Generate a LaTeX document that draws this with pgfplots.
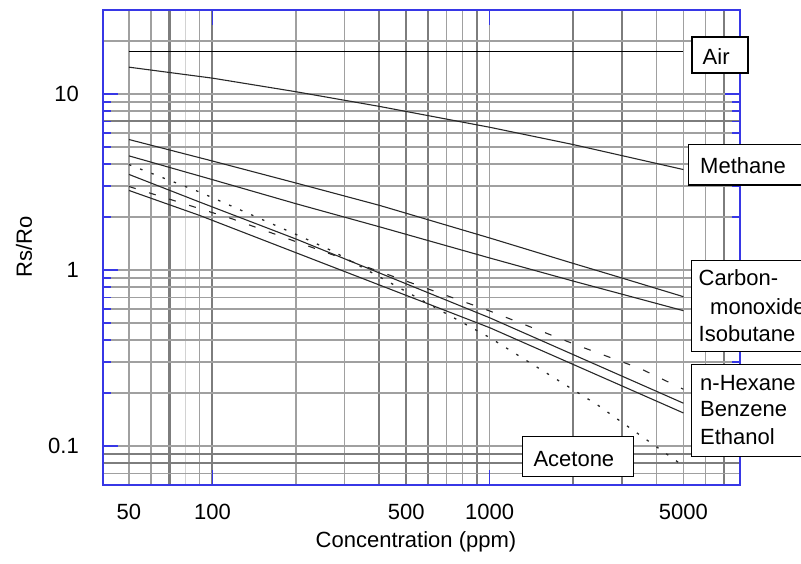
\documentclass[border=0pt]{standalone}
\usepackage{fontspec}
\setmainfont{Liberation Sans}
\usepackage{pgfplots}
\pgfplotsset{compat=1.18}
\definecolor{axblue}{RGB}{55,55,230}
\definecolor{gridn}{RGB}{160,160,160}
\definecolor{gridt}{RGB}{125,125,125}
\definecolor{gridl}{RGB}{210,210,210}
\definecolor{curve}{RGB}{40,40,40}
\begin{document}
\fontsize{22}{26}\selectfont
\begin{tikzpicture}
\path[use as bounding box] (-103pt,-78pt) rectangle (698pt,485pt);
% light grid line
\begin{axis}[xmode=log, ymode=log, xmin=40.3, xmax=8000, ymin=0.06, ymax=30,
  scale only axis, width=637pt, height=475pt, at={(0pt,0pt)}, anchor=south west,
  axis line style={draw=none}, tick style={draw=none}, xticklabels={}, yticklabels={},
  xtick={80}, ytick={1}, xminorticks=false, yminorticks=false,
  xmajorgrids, major grid style={gridl, line width=1.2pt}]
\end{axis}
% vertical grid
\begin{axis}[xmode=log, ymode=log, xmin=40.3, xmax=8000, ymin=0.06, ymax=30,
  scale only axis, width=637pt, height=475pt, at={(0pt,0pt)}, anchor=south west,
  axis line style={draw=none}, tick style={draw=none}, xticklabels={}, yticklabels={},
  xtick={70,100,400,500,600,900,2000,3000,7000},
  minor xtick={50,60,90,200,300,700,800,1000,4000,5000,6000},
  ytick={1}, yminorticks=false,
  xmajorgrids, xminorgrids,
  major grid style={gridt, line width=2.1pt}, minor grid style={gridn, line width=1.3pt}]
\end{axis}
% horizontal grid
\begin{axis}[xmode=log, ymode=log, xmin=40.3, xmax=8000, ymin=0.06, ymax=30,
  scale only axis, width=637pt, height=475pt, at={(0pt,0pt)}, anchor=south west,
  axis line style={draw=none}, tick style={draw=none}, xticklabels={}, yticklabels={},
  ytick={7,0.09,0.08},
  minor ytick={0.07,0.1,0.2,0.3,0.4,0.5,0.6,0.7,0.8,0.9,1,2,3,4,5,6,8,9,10,20},
  xtick={100}, xminorticks=false,
  ymajorgrids, yminorgrids,
  major grid style={gridt, line width=2.1pt}, minor grid style={gridn, line width=1.3pt}]
\end{axis}
% main axis
\begin{axis}[xmode=log, ymode=log, xmin=40.3, xmax=8000, ymin=0.06, ymax=30,
  scale only axis, width=637pt, height=475pt, at={(0pt,0pt)}, anchor=south west,
  axis line style={axblue, line width=1.3pt},
  tick style={axblue, line width=1.2pt},
  major tick length=15pt, minor tick length=8pt,
  xtick={100,1000}, xticklabels={100,1000}, xminorticks=false,
  extra x ticks={50,500,5000}, extra x tick labels={50,500,5000},
  extra x tick style={major tick length=0pt},
  ytick={0.1,1,10}, yticklabels={0.1,1,10},
  xticklabel style={yshift=-11.5pt},
  yticklabel style={xshift=-16.7pt}]
% Air
\addplot[black, line width=1.2pt] coordinates {(50,17.5) (5000,17.5)};
% Methane
\addplot[curve, line width=1.1pt] coordinates {(50,14.2) (100,12.3) (200,10.3) (400,8.5) (1000,6.47) (2000,5.16) (5000,3.72)};
% Carbon monoxide
\addplot[curve, line width=1.1pt] coordinates {(50,5.51) (100,4.16) (200,3.12) (400,2.33) (1000,1.52) (2000,1.09) (3000,0.90) (5000,0.705)};
% Isobutane
\addplot[curve, line width=1.1pt] coordinates {(50,4.45) (100,3.26) (200,2.38) (400,1.76) (1000,1.17) (2000,0.865) (5000,0.587)};
% n-Hexane (dashed)
\addplot[curve, line width=1.1pt, dash pattern=on 7pt off 14pt] coordinates {(50,2.98) (117,1.96) (1000,0.585) (2100,0.37) (3500,0.275) (5000,0.21)};
% Benzene
\addplot[curve, line width=1.1pt] coordinates {(50,3.49) (90,2.43) (200,1.50) (1000,0.535) (5000,0.175)};
% Ethanol
\addplot[curve, line width=1.1pt] coordinates {(50,2.83) (90,2.04) (1000,0.47) (5000,0.154)};
% Acetone (dotted)
\addplot[curve, line width=1.3pt, dash pattern=on 2.5pt off 9.5pt] coordinates {(50,3.97) (90,2.77) (210,1.54) (274,1.27) (1000,0.413) (2450,0.171) (5000,0.077)};
\end{axis}
% axis labels
\node[anchor=base] at (313pt,-62pt) {Concentration (ppm)};
\node[rotate=90, anchor=base] at (-71pt,237.7pt) {Rs/Ro};
% label boxes
\begin{scope}
\clip (-103pt,-78pt) rectangle (698pt,485pt);
\draw[black, line width=1.3pt, fill=white] (589pt,412pt) rectangle (645pt,448pt);
\node[anchor=base west, inner sep=0pt] at (599.5pt,420pt) {Air};
\draw[black, line width=1.3pt, fill=white] (585.3pt,300pt) rectangle (720pt,340.7pt);
\node[anchor=base west, inner sep=0pt] at (597pt,311.7pt) {Methane};
\draw[black, line width=1.3pt, fill=white] (588.7pt,133.3pt) rectangle (720pt,224.3pt);
\node[anchor=base west, inner sep=0pt] at (595.5pt,199pt) {Carbon-};
\node[anchor=base west, inner sep=0pt] at (607pt,171pt) {monoxide};
\node[anchor=base west, inner sep=0pt] at (595.5pt,143.3pt) {Isobutane};
\draw[black, line width=1.3pt, fill=white] (588.7pt,28.3pt) rectangle (720pt,120.7pt);
\node[anchor=base west, inner sep=0pt] at (597pt,95pt) {n-Hexane};
\node[anchor=base west, inner sep=0pt] at (597pt,68.3pt) {Benzene};
\node[anchor=base west, inner sep=0pt] at (597pt,41pt) {Ethanol};
\draw[black, line width=1.3pt, fill=white] (419.3pt,8.3pt) rectangle (530.3pt,48.3pt);
\node[anchor=base west, inner sep=0pt] at (430.3pt,19pt) {Acetone};
\end{scope}
\end{tikzpicture}
\end{document}
